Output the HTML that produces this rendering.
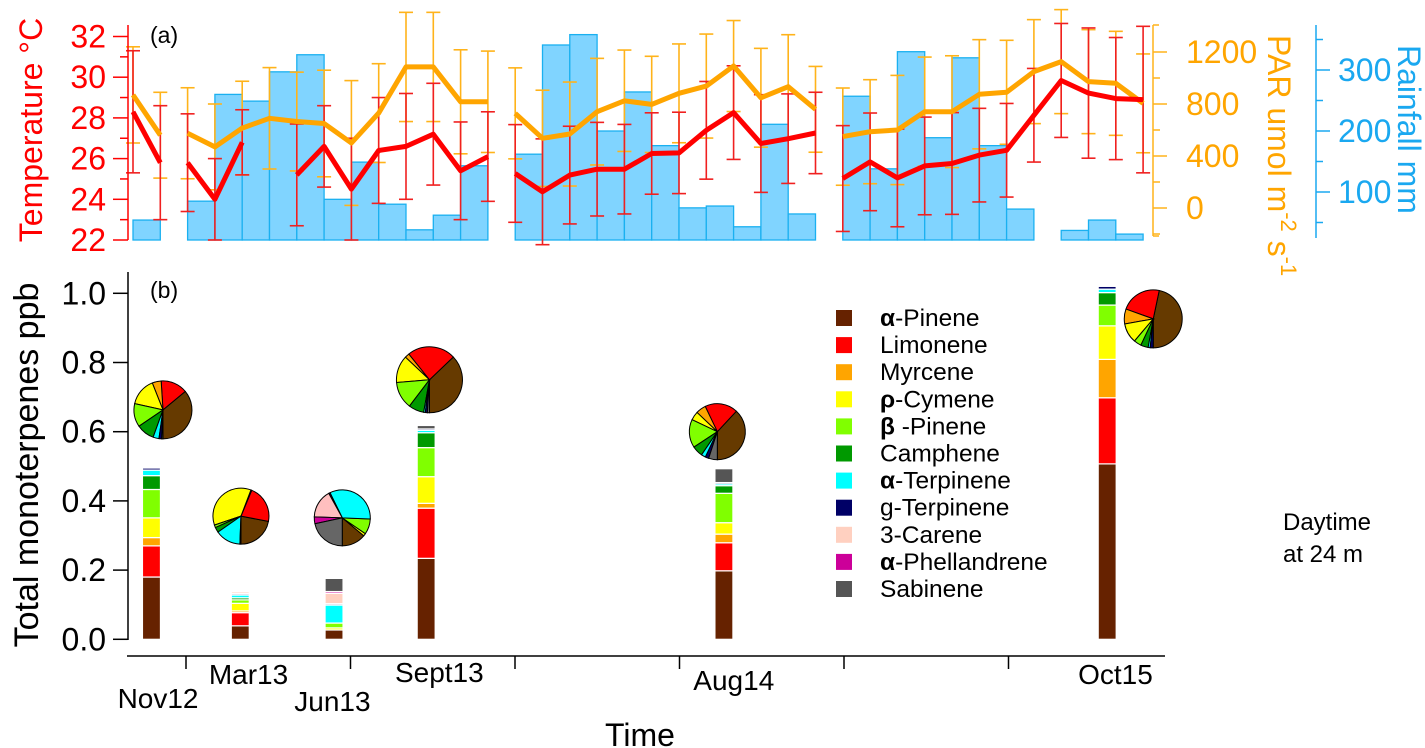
<!DOCTYPE html>
<html><head><meta charset="utf-8"><style>
html,body{margin:0;padding:0;background:#fff;}
svg{display:block;font-family:"Liberation Sans",Arial,sans-serif;}
</style></head><body>
<svg id="chart" width="1425" height="748" viewBox="0 0 1425 748" xmlns="http://www.w3.org/2000/svg">
<g id="topPanel"></g>
<g id="bottomPanel"></g>
<text x="150" y="43" font-size="23">(a)</text>
<text x="150" y="298" font-size="23">(b)</text>
<text transform="translate(42,130) rotate(-90)" text-anchor="middle" font-size="32" fill="#ff0000">Temperature °C</text>
<text transform="translate(1268,35) rotate(90)" font-size="32" fill="#ffa500">PAR umol m<tspan dy="-13" font-size="22">-2</tspan><tspan dy="13"> s</tspan><tspan dy="-13" font-size="22">-1</tspan></text>
<text transform="translate(1398,45) rotate(90)" font-size="32" fill="#1aa8f0">Rainfall mm</text>
<text transform="translate(38,465) rotate(-90)" text-anchor="middle" font-size="34">Total monoterpenes ppb</text>
<text x="640" y="746" text-anchor="middle" font-size="32">Time</text>
<text x="1283" y="530" font-size="24">Daytime</text>
<text x="1283" y="562" font-size="24">at 24 m</text>
</svg>
<script>
// ---------- Panel (a) data (monthly slots) ----------
const temperature = [28.3,25.8, 25.8,24.0,26.8,null,25.2,26.6,24.5,26.4,26.6,27.2,25.4,26.1, 25.27,24.37,25.19,25.48,25.48,26.25,26.28,27.39,28.26,26.74,26.98,27.26, 25.02,25.84,25.05,25.64,25.76,26.17,26.41,28.13,29.84,29.22,28.95,28.9];
const temperatureErr = [3.0,2.8,2.4,2.0,1.6,2.0,2.5,2.0,2.5,2.6,2.6,2.5,2.4,2.2, 2.4,2.6,2.4,2.3,2.2,2.0,2.0,2.4,2.3,2.4,2.2,2.0, 2.6,2.4,2.4,2.4,2.5,2.3,2.3,2.3,2.8,3.2,3.0,3.6];
const par = [870,560, 575,470,615,690,665,650,500,730,1085,1085,817,817, 728,536,569,741,825,797,882,938,1092,848,933,759, 549,587,600,741,741,875,890,1049,1126,972,959,805];
const parErr = [370,330, 350,330,360,390,380,410,480,380,420,420,400,390, 350,370,400,410,390,370,380,400,350,380,400,330, 374,400,420,420,430,420,400,400,400,400,400,380];
const rainfall = [54,null,85,260,249,297,325,88,149,80,38,62,143, null, 162,341,358,200,264,176,74,77,43,211,64, null, 257,138,330,189,320,176,72,null,37,54,31];
const lineBreaks = [2,14,26];
const tempTicks = [22,24,26,28,30,32];
const parTicks = [0,400,800,1200];
const rainTicks = [100,200,300];

// ---------- Panel (b) data ----------
const sampleDates = ['Nov12','Mar13','Jun13','Sept13','Aug14','Oct15'];
const samplePos = [0.79,1.33,1.90,2.46,4.27,6.60];
const aPinene = [0.18,0.039,0.027,0.234,0.198,0.507];
const limonene = [0.09,0.038,0,0.145,0.081,0.191];
const myrcene = [0.024,0.005,0,0.014,0.025,0.111];
const pCymene = [0.057,0.022,0.006,0.077,0.033,0.097];
const bPinene = [0.082,0.01,0.014,0.084,0.085,0.06];
const camphene = [0.04,0.006,0,0.043,0.022,0.036];
const aTerpinene = [0.016,0.008,0.052,0.007,0.005,0.01];
const gTerpinene = [0.006,0.004,0.004,0.004,0.004,0.008];
const carene = [0,0.005,0.03,0,0,0];
const phellandrene = [0,0.003,0.005,0,0,0];
const sabinene = [0,0,0.038,0.01,0.04,0];
const pieNov12 = [0.36,0.15,0.05,0.155,0.13,0.10,0.033,0.015,0,0,0.007];
const pieMar13 = [0.22,0.217,0.005,0.36,0.015,0.03,0.147,0.006,0,0,0];
const pieJun13 = [0.14,0,0,0.015,0.09,0,0.33,0.008,0.165,0.04,0.217];
const pieSept13 = [0.37,0.236,0.022,0.133,0.133,0.075,0.008,0.01,0,0,0.01];
const pieAug14 = [0.38,0.19,0.058,0.05,0.163,0.062,0.025,0.02,0,0,0.05];
const pieOct15 = [0.467,0.228,0.083,0.11,0.042,0.042,0.011,0.017,0,0,0];
const piePosX = [0.86,1.334,1.95,2.48,4.23,6.88];
const piePosY = [0.663,0.356,0.351,0.75,0.60,0.926];
const yTicks = [0,0.2,0.4,0.6,0.8,1.0];
const tickLabels = ['Nov12','Mar13','Jun13','Sept13','Aug14','Oct15'];
const tickLabelPos = [0.83,1.38,1.89,2.54,4.33,6.65];

const speciesNames = ['α|-Pinene','Limonene','Myrcene','ρ|-Cymene','β| -Pinene','Camphene','α|-Terpinene','g-Terpinene','3-Carene','α|-Phellandrene','Sabinene'];
const speciesColors = ['#662200','#ff0000','#ffa500','#ffff00','#80ff00','#009900','#00ffff','#000066','#ffd0c0','#cc0099','#555555'];
const pieColors = ['#663a00','#ff0000','#ffa500','#ffff00','#80ff00','#009900','#00ffff','#000066','#ffbfbf','#cc0099','#666666'];

const NS = 'http://www.w3.org/2000/svg';
function mk(parent, tag, attrs, text){
  const e = document.createElementNS(NS, tag);
  for (const k in attrs) e.setAttribute(k, attrs[k]);
  if (text !== undefined) e.textContent = text;
  parent.appendChild(e);
  return e;
}
const topG = document.getElementById('topPanel');
const botG = document.getElementById('bottomPanel');

const slotX = i => 133 + 27.3 * i;
const tY = t => 240 - (t - 22) * 20.35;
const pY = p => 208 - p * 0.13;
const rY = r => 253 - r * 0.61;
const vY = v => 639.3 - v * 346;
const posX = p => 186 + (p - 1) * 164.5;

rainfall.forEach((r, i) => {
  if (r === null) return;
  const x0 = slotX(i), x1 = slotX(i + 1);
  const b = mk(topG, 'rect', {x: x0, y: rY(r), width: x1 - x0, height: 240 - rY(r), fill: '#80d4ff', stroke: '#1ab0f0', 'stroke-width': 1.3});
  
  
});

function errBars(vals, errs, yf, color, name){
  vals.forEach((v, i) => {
    if (v === null) return;
    const x = slotX(i), y1 = yf(v + errs[i]), y2 = yf(v - errs[i]);
    const g = mk(topG, 'g', {stroke: color, 'stroke-width': 1.6});
    
    
    mk(g, 'line', {x1: x, x2: x, y1: y1, y2: y2});
    mk(g, 'line', {x1: x - 7, x2: x + 7, y1: y1, y2: y1});
    mk(g, 'line', {x1: x - 7, x2: x + 7, y1: y2, y2: y2});
  });
}
errBars(par, parErr, pY, '#ffb31a', 'par-error-bar');
errBars(temperature, temperatureErr, tY, '#f02020', 'temperature-error-bar');

function drawLine(vals, yf, color, name){
  let d = '', pen = false;
  vals.forEach((v, i) => {
    if (v === null || lineBreaks.includes(i)) pen = false;
    if (v === null) return;
    d += (pen ? 'L' : 'M') + slotX(i).toFixed(1) + ',' + yf(v).toFixed(1);
    pen = true;
  });
  const p = mk(topG, 'path', {d: d, fill: 'none', stroke: color, 'stroke-width': 5, 'stroke-linejoin': 'round'});
  
  
}
drawLine(par, pY, '#ffa500', 'par-line');
drawLine(temperature, tY, '#ff0000', 'temperature-line');

const ta = mk(topG, 'g', {stroke: '#ff0000', 'stroke-width': 1.5});


mk(ta, 'line', {x1: 128, x2: 128, y1: 25, y2: 240});
for (let t = 22; t <= 32; t++) mk(ta, 'line', {x1: t % 2 ? 120 : 113, x2: 128, y1: tY(t), y2: tY(t)});
tempTicks.forEach(t => {
  const l = mk(topG, 'text', {x: 106, y: tY(t) + 11, 'text-anchor': 'end', 'font-size': 32, fill: '#ff0000'}, String(t));
  
  
});

const pa = mk(topG, 'g', {stroke: '#ffb31a', 'stroke-width': 1.5});


mk(pa, 'line', {x1: 1153, x2: 1153, y1: 25, y2: 236});
mk(pa, 'line', {x1: 1153, x2: 1159, y1: 25, y2: 25});
mk(pa, 'line', {x1: 1153, x2: 1159, y1: 236, y2: 236});
for (let p = -200; p <= 1200; p += 200) mk(pa, 'line', {x1: 1153, x2: (p % 400 === 0) ? 1167 : 1160, y1: pY(p), y2: pY(p)});
parTicks.forEach(p => {
  const l = mk(topG, 'text', {x: 1186, y: pY(p) + 11, 'font-size': 32, fill: '#ffa500'}, String(p));
  
  
});

const ra = mk(topG, 'g', {stroke: '#1aa8f0', 'stroke-width': 1.5});


mk(ra, 'line', {x1: 1316, x2: 1316, y1: 25, y2: 238});
for (let r = 50; r <= 350; r += 50) mk(ra, 'line', {x1: 1316, x2: (r % 100 === 0) ? 1330 : 1323, y1: rY(r), y2: rY(r)});
rainTicks.forEach(r => {
  const l = mk(topG, 'text', {x: 1338, y: rY(r) + 11, 'font-size': 32, fill: '#1aa8f0'}, String(r));
  
  
});

const stackSeries = [aPinene, limonene, myrcene, pCymene, bPinene, camphene, aTerpinene, gTerpinene, carene, phellandrene, sabinene];
sampleDates.forEach((d, j) => {
  let cum = 0;
  const cx = posX(samplePos[j]);
  stackSeries.forEach((s, k) => {
    const v = s[j];
    if (v <= 0) return;
    const y1 = vY(cum + v), y0 = vY(cum);
    const r = mk(botG, 'rect', {x: cx - 9, y: y1, width: 18, height: y0 - y1, fill: speciesColors[k], stroke: '#ffffff', 'stroke-width': 1.2});
    
    
    cum += v;
  });
});

const pies = [pieNov12, pieMar13, pieJun13, pieSept13, pieAug14, pieOct15];
const pieRadius = [29, 28, 28, 33, 28, 29];
pies.forEach((shares, j) => {
  const cx = posX(piePosX[j]), cy = vY(piePosY[j]), R = pieRadius[j];
  const g = mk(botG, 'g', {});
  
  
  const tot = shares.reduce((a, b) => a + b, 0);
  let a = 270;
  shares.forEach((s, k) => {
    if (s <= 0) return;
    const a2 = a + s / tot * 360;
    const r1 = a * Math.PI / 180, r2 = a2 * Math.PI / 180;
    const x1 = cx + R * Math.cos(r1), y1 = cy - R * Math.sin(r1);
    const x2 = cx + R * Math.cos(r2), y2 = cy - R * Math.sin(r2);
    const large = (a2 - a) > 180 ? 1 : 0;
    const p = mk(g, 'path', {d: `M${cx},${cy}L${x1.toFixed(2)},${y1.toFixed(2)}A${R},${R} 0 ${large} 0 ${x2.toFixed(2)},${y2.toFixed(2)}Z`, fill: pieColors[k], stroke: '#000', 'stroke-width': 1});
    
    
    a = a2;
  });
});

const ya = mk(botG, 'g', {stroke: '#000', 'stroke-width': 1.5});


mk(ya, 'line', {x1: 128, x2: 128, y1: 272, y2: 640});
yTicks.forEach(v => {
  mk(ya, 'line', {x1: 113, x2: 128, y1: vY(v), y2: vY(v)});
  const l = mk(botG, 'text', {x: 106, y: vY(v) + 11, 'text-anchor': 'end', 'font-size': 32}, v.toFixed(1));
  
  
});

const xa = mk(botG, 'g', {stroke: '#000', 'stroke-width': 1.5});


mk(xa, 'line', {x1: 127, x2: 1165, y1: 656, y2: 656});
for (let t = 1; t <= 6; t++) mk(xa, 'line', {x1: posX(t), x2: posX(t), y1: 656, y2: 669});
const labelY = [708, 684, 711, 682, 690, 684];
tickLabels.forEach((s, j) => {
  const l = mk(botG, 'text', {x: posX(tickLabelPos[j]), y: labelY[j], 'text-anchor': 'middle', 'font-size': 28}, s);
  
  
});

const lg = mk(botG, 'g', {});


speciesNames.forEach((n, k) => {
  const y = 318 + k * 27.1;
  const sw = mk(lg, 'rect', {x: 836, y: y - 8, width: 16, height: 16, fill: speciesColors[k]});
  
  
  const t = mk(lg, 'text', {x: 880, y: y + 8, 'font-size': 24.5});
  
  
  const parts = n.split('|');
  if (parts.length > 1) {
    mk(t, 'tspan', {'font-weight': 'bold'}, parts[0]);
    mk(t, 'tspan', {}, parts[1]);
  } else {
    t.textContent = n;
  }
});
</script>
</body></html>
